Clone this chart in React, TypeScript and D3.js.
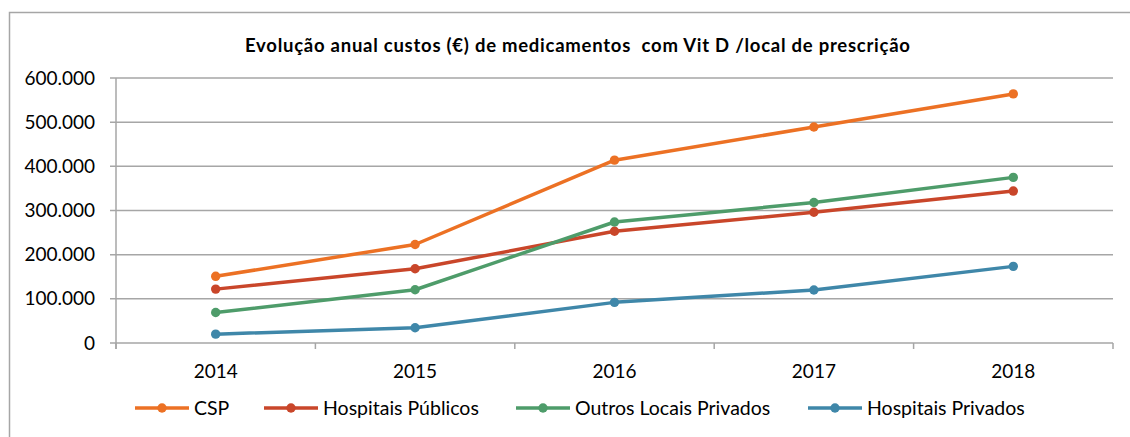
import React, { useEffect, useRef } from "react";
import * as d3 from "d3";

const years = ["2014", "2015", "2016", "2017", "2018"];
const csp = [151000, 223000, 414000, 489000, 564000];
const hospPublicos = [122000, 168000, 253000, 296000, 344000];
const outrosPrivados = [69000, 120500, 274000, 318000, 375000];
const hospPrivados = [20000, 34600, 92000, 120000, 173500];
const yTicks = [0, 100000, 200000, 300000, 400000, 500000, 600000];
const seriesNames = ["CSP", "Hospitais Públicos", "Outros Locais Privados", "Hospitais Privados"];
const seriesColors = ["#EC7124", "#C9462A", "#4E9C6A", "#3F87A9"];
const title = "Evolução anual custos (€) de medicamentos  com Vit D /local de prescrição";

const W = 1130, H = 437;
const left = 116, right = 1113, top = 78, bottom = 343;
const font = "Lato, 'Open Sans', sans-serif";

export default function App() {
  const ref = useRef<SVGSVGElement>(null);
  useEffect(() => {
    const svg = d3.select(ref.current);
    svg.selectAll("*").remove();
    const data = [csp, hospPublicos, outrosPrivados, hospPrivados];
    const x = d3.scaleBand<string>().domain(years).range([left, right]);
    const y = d3.scaleLinear().domain([0, 600000]).range([bottom, top]);
    const fmt = (v: number) => d3.format(",")(v).replace(/,/g, ".");

    svg.append("rect").attr("x", 9.5).attr("y", 12.5).attr("width", W + 20).attr("height", H + 20)
      .attr("fill", "white").attr("stroke", "#A6A6A6").attr("stroke-width", 1.5);

    svg.append("text").attr("x", 245).attr("y", 52)
      .attr("font-family", font).attr("font-weight", "bold").attr("font-size", 18.5).attr("fill", "#000")
      .attr("textLength", 665).attr("lengthAdjust", "spacing")
      .style("white-space", "pre")
      .text(title);

    // gridlines
    yTicks.forEach((t) => {
      svg.append("line").attr("x1", left - 6).attr("x2", right)
        .attr("y1", y(t)).attr("y2", y(t)).attr("stroke", "#A6A6A6").attr("stroke-width", 1.5);
      svg.append("text").attr("x", 95).attr("y", y(t)).attr("dy", "0.35em").attr("text-anchor", "end")
        .attr("font-family", font).attr("font-size", 19).attr("fill", "#000").text(fmt(t));
    });
    // y axis line
    svg.append("line").attr("x1", left).attr("x2", left).attr("y1", top).attr("y2", bottom + 6)
      .attr("stroke", "#A6A6A6").attr("stroke-width", 1.5);
    // x ticks
    const bounds = [...years.map((yr) => x(yr) as number), right];
    bounds.forEach((b) => {
      svg.append("line").attr("x1", b).attr("x2", b).attr("y1", bottom).attr("y2", bottom + 6)
        .attr("stroke", "#A6A6A6").attr("stroke-width", 1.5);
    });
    years.forEach((yr) => {
      svg.append("text").attr("x", (x(yr) as number) + x.bandwidth() / 2).attr("y", 371).attr("dy", "0.35em")
        .attr("text-anchor", "middle").attr("font-family", font).attr("font-size", 19).attr("fill", "#000").text(yr);
    });

    const line = d3.line<number>().x((_, i) => (x(years[i]) as number) + x.bandwidth() / 2).y((d) => y(d));
    data.forEach((s, k) => {
      svg.append("path").attr("d", line(s)).attr("fill", "none").attr("stroke", seriesColors[k]).attr("stroke-width", 3.5)
        .attr("stroke-linejoin", "round");
      s.forEach((v, i) => {
        svg.append("circle").attr("cx", (x(years[i]) as number) + x.bandwidth() / 2).attr("cy", y(v)).attr("r", 4.7)
          .attr("fill", seriesColors[k]);
      });
    });

    // legend
    const legX = [135, 264, 516, 808];
    const ly = 408;
    seriesNames.forEach((n, k) => {
      const g = svg.append("g");
      g.append("line").attr("x1", legX[k]).attr("x2", legX[k] + 54).attr("y1", ly).attr("y2", ly)
        .attr("stroke", seriesColors[k]).attr("stroke-width", 3.5);
      g.append("circle").attr("cx", legX[k] + 27).attr("cy", ly).attr("r", 4.7).attr("fill", seriesColors[k]);
      g.append("text").attr("x", legX[k] + 59).attr("y", ly).attr("dy", "0.35em").attr("font-family", font)
        .attr("font-size", 19.5).attr("fill", "#000").text(n);
    });
  }, []);
  return <svg ref={ref} width={W} height={H} style={{ position: "absolute", left: 0, top: 0 }} />;
}
